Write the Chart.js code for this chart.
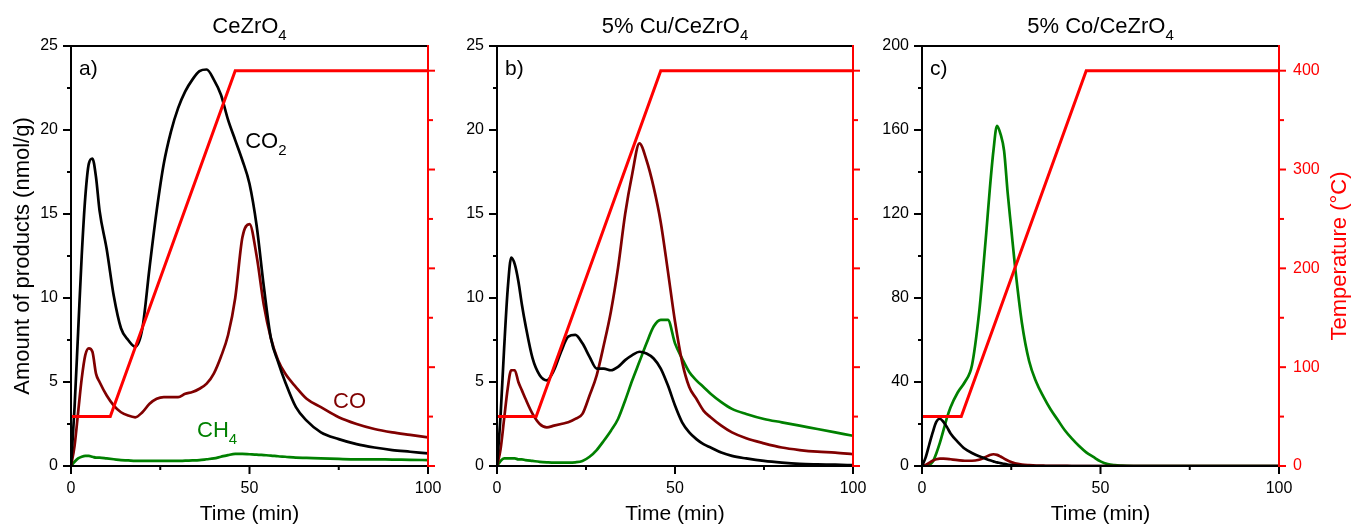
<!DOCTYPE html>
<html>
<head>
<meta charset="utf-8">
<script src="https://cdn.jsdelivr.net/npm/chart.js@4.4.1/dist/chart.umd.min.js"></script>
<style>
  html, body { margin: 0; padding: 0; background: #fff; }
  #wrap { position: relative; width: 1352px; height: 528px; }
  #wrap canvas { position: absolute; left: 0; top: 0; }
</style>
</head>
<body>
<div id="wrap">
  <canvas id="chartA" width="1352" height="528"></canvas>
  <canvas id="chartB" width="1352" height="528"></canvas>
  <canvas id="chartC" width="1352" height="528"></canvas>
</div>
<script>
// ---- data ----
const timeAB = [0, 1, 2, 3, 4, 5, 6, 7, 8,
  10, 12, 14, 16, 18, 20, 22, 24, 26, 28, 30, 32, 34, 36, 38, 40,
  42, 44, 46, 48, 50, 52, 54, 56, 58, 60,
  63, 66, 70, 75, 80, 85, 90, 95, 100];

const co2A = [0, 3.5, 8, 12.5, 16, 18, 18.3, 17.2, 15.2,
  12.9, 10.1, 8.2, 7.5, 7.1, 8.2, 11.8, 15.2, 18.0, 19.9, 21.3, 22.3, 23.0, 23.5, 23.6, 23.0,
  22.1, 20.6, 19.4, 18.2, 16.8, 14.3, 10.7, 7.6, 6.2, 5.0,
  3.5, 2.7, 2.0, 1.6, 1.3, 1.1, 0.95, 0.85, 0.75];
const coA = [0, 1.2, 3.2, 5.2, 6.6, 7.0, 6.8, 5.5, 5.0,
  4.2, 3.6, 3.2, 3.0, 2.9, 3.2, 3.7, 4.0, 4.1, 4.1, 4.1, 4.3, 4.4, 4.6, 4.9, 5.5,
  6.5, 7.8, 10.0, 13.6, 14.4, 12.5, 9.6, 7.6, 6.3, 5.5,
  4.7, 4.0, 3.5, 2.9, 2.5, 2.2, 2.0, 1.85, 1.7];
const ch4A = [0, 0.25, 0.45, 0.55, 0.6, 0.6, 0.55, 0.5, 0.5,
  0.45, 0.4, 0.35, 0.33, 0.3, 0.3, 0.3, 0.3, 0.3, 0.3, 0.3, 0.32, 0.33, 0.35, 0.4, 0.45,
  0.55, 0.65, 0.72, 0.72, 0.7, 0.68, 0.65, 0.62, 0.58, 0.55,
  0.5, 0.48, 0.45, 0.42, 0.4, 0.4, 0.38, 0.37, 0.35];

const co2B = [0, 3, 7, 10.5, 12.4, 12.0, 11.0, 9.6, 8.4,
  6.4, 5.4, 5.1, 5.7, 6.8, 7.7, 7.8, 7.3, 6.5, 5.8, 5.8, 5.7, 5.9, 6.3, 6.6, 6.8,
  6.7, 6.4, 5.8, 4.8, 3.6, 2.6, 2.0, 1.6, 1.3, 1.1,
  0.8, 0.6, 0.45, 0.3, 0.2, 0.13, 0.1, 0.08, 0.05];
const coB = [0, 1, 2.8, 4.6, 5.7, 5.7, 5.0, 4.5, 4.0,
  3.1, 2.5, 2.3, 2.4, 2.5, 2.6, 2.8, 3.1, 4.2, 5.4, 7.2, 9.2, 11.8, 15.0, 17.4, 19.2,
  18.2, 16.6, 14.5, 11.6, 8.6, 6.2, 4.7, 4.0, 3.3, 2.9,
  2.4, 2.0, 1.65, 1.35, 1.1, 0.95, 0.85, 0.8, 0.7];
const ch4B = [0, 0.3, 0.45, 0.45, 0.45, 0.45, 0.4, 0.4, 0.35,
  0.3, 0.25, 0.22, 0.2, 0.2, 0.2, 0.22, 0.3, 0.55, 0.95, 1.5, 2.1, 2.8, 3.9, 5.1, 6.2,
  7.3, 8.3, 8.7, 8.7, 7.3, 6.4, 5.6, 5.1, 4.7, 4.3,
  3.8, 3.4, 3.1, 2.8, 2.6, 2.4, 2.2, 2.0, 1.8];

const timeC = [0, 1, 2, 3, 4, 5, 6, 7, 8, 10, 12, 14,
  16, 17, 18, 19, 20, 21, 22, 23, 24, 25, 26,
  28, 30, 32, 34, 36, 38, 40, 42, 44, 46, 48, 50, 52, 54, 56,
  60, 70, 80, 90, 100];
const co2C = [0, 4, 10, 16, 21, 22.5, 21, 18.5, 15.5, 11.5, 8.2, 6.2,
  4.6, 4.0, 3.3, 2.7, 2.2, 1.7, 1.4, 1.0, 0.7, 0.5, 0.3,
  0.1, 0, 0, 0, 0, 0, 0, 0, 0, 0, 0, 0, 0, 0, 0,
  0, 0, 0, 0, 0];
const coC = [0, 0.5, 1.5, 2.5, 3.2, 3.5, 3.5, 3.4, 3.2, 2.8, 2.5, 2.5,
  3.0, 3.6, 4.4, 5.2, 5.6, 5.3, 4.5, 3.5, 2.6, 1.9, 1.3,
  0.7, 0.4, 0.2, 0.15, 0.1, 0.1, 0.05, 0, 0, 0, 0, 0, 0, 0, 0,
  0, 0, 0, 0, 0];
const ch4C = [0, 0, 0.5, 2, 6, 11, 17, 23, 28, 35, 40, 48,
  73, 91, 111, 132, 150, 162, 158, 150, 130, 113, 96,
  68, 50, 40, 33, 27, 22, 17, 13, 9.5, 6.5, 4.3, 2.2, 0.9, 0.4, 0.2,
  0, 0, 0, 0, 0];

const tempTime = [0, 11, 46, 100];
const tempValue = [50, 50, 400, 400];

const timeTicks = [0, 50, 100];
const tempTicks = [0, 100, 200, 300, 400];

// ---- helpers ----
const FONT = "'Liberation Sans', Arial, sans-serif";
const C_CO2 = '#000000', C_CO = '#800000', C_CH4 = '#008000', C_T = '#ff0000';

function pts(xs, ys) { return xs.map((x, i) => ({ x: x, y: ys[i] })); }

// text with subscript parts: [[text, isSub], ...]
function subText(ctx, x, y, parts, size, color, align) {
  const sub = Math.round(size * 0.68);
  ctx.save();
  ctx.fillStyle = color;
  ctx.textBaseline = 'alphabetic';
  ctx.textAlign = 'left';
  let w = 0;
  parts.forEach((p) => { ctx.font = (p[1] ? sub : size) + 'px ' + FONT; w += ctx.measureText(p[0]).width; });
  let cx = align === 'center' ? x - w / 2 : x;
  parts.forEach((p) => {
    ctx.font = (p[1] ? sub : size) + 'px ' + FONT;
    ctx.fillText(p[0], cx, p[1] ? y + size * 0.3 : y);
    cx += ctx.measureText(p[0]).width;
  });
  ctx.restore();
}

function vText(ctx, x, y, text, size, color) {
  ctx.save();
  ctx.translate(x, y);
  ctx.rotate(-Math.PI / 2);
  ctx.font = size + 'px ' + FONT;
  ctx.fillStyle = color;
  ctx.textAlign = 'center';
  ctx.textBaseline = 'middle';
  ctx.fillText(text, 0, 0);
  ctx.restore();
}

// frame, tick marks and annotations
const panelDecor = {
  id: 'panelDecor',
  afterDatasetsDraw(chart, args, o) {
    const ctx = chart.ctx;
    const a = chart.chartArea;
    const sx = chart.scales.x, sy = chart.scales.y, st = chart.scales.yT;
    ctx.save();
    ctx.lineWidth = 2;

    function seg(x1, y1, x2, y2, col) {
      ctx.strokeStyle = col;
      ctx.beginPath(); ctx.moveTo(x1, y1); ctx.lineTo(x2, y2); ctx.stroke();
    }

    for (let v = 0; v <= 100; v += 25) {
      const px = sx.getPixelForValue(v);
      seg(px, a.bottom, px, a.bottom + (v % 50 === 0 ? 8 : 4), '#000');
    }
    for (let i = 0; i * o.yStep <= sy.max + 1e-9; i++) {
      const py = sy.getPixelForValue(i * o.yStep);
      seg(a.left, py, a.left - (i % 2 === 0 ? 8 : 4), py, '#000');
    }
    for (let v = 0; v <= 400; v += 50) {
      const py = st.getPixelForValue(v);
      seg(a.right, py, a.right + (v % 100 === 0 ? 7 : 5), py, C_T);
    }

    ctx.lineCap = 'square';
    ctx.strokeStyle = '#000';
    ctx.beginPath();
    ctx.moveTo(a.right, a.top); ctx.lineTo(a.left, a.top);
    ctx.lineTo(a.left, a.bottom); ctx.lineTo(a.right, a.bottom);
    ctx.stroke();
    seg(a.right, a.top, a.right, a.bottom, C_T);
    ctx.restore();

    const cx = (a.left + a.right) / 2;
    subText(ctx, cx, 33, o.title, 22, '#000', 'center');
    subText(ctx, cx, 520, [['Time (min)']], 21, '#000', 'center');
    subText(ctx, a.left + 8, a.top + 29, [[o.letter]], 21, '#000', 'left');
    (o.labels || []).forEach((l) => {
      subText(ctx, sx.getPixelForValue(l.x), sy.getPixelForValue(l.y), l.parts, 22, l.color, 'left');
    });
    if (o.yTitle) vText(ctx, 23, 256, 'Amount of products (nmol/g)', 22, '#000');
    if (o.tTitle) vText(ctx, 1340, 256, 'Temperature (°C)', 22, C_T);
  }
};

function makePanel(id, p) {
  const line = (data, color) => ({
    data: data, borderColor: color, backgroundColor: color, borderWidth: 2.7,
    pointRadius: 0, cubicInterpolationMode: 'monotone', order: 1, yAxisID: 'y'
  });
  const tickFont = { family: FONT, size: 16 };
  return new Chart(document.getElementById(id), {
    type: 'line',
    data: {
      datasets: [
        { data: pts(tempTime, tempValue), borderColor: C_T, backgroundColor: C_T,
          borderWidth: 3, pointRadius: 0, tension: 0, order: 0, yAxisID: 'yT' },
        line(pts(p.time, p.co2), C_CO2),
        line(pts(p.time, p.co), C_CO),
        line(pts(p.time, p.ch4), C_CH4)
      ]
    },
    options: {
      responsive: false,
      animation: false,
      events: [],
      layout: { padding: { left: p.left - 40, right: 1352 - p.right - 45, top: 46, bottom: 0 } },
      plugins: {
        legend: { display: false },
        tooltip: { enabled: false },
        panelDecor: p.decor
      },
      scales: {
        x: {
          type: 'linear', min: 0, max: 100,
          afterFit: (s) => { s.height = 62; },
          grid: { display: false, drawTicks: false }, border: { display: false },
          ticks: { stepSize: 50, padding: 13, color: '#000', font: tickFont, maxRotation: 0,
            callback: (v) => (timeTicks.includes(v) ? v : '') }
        },
        y: {
          position: 'left', min: 0, max: p.yMax,
          afterFit: (s) => { s.width = 40; },
          grid: { display: false, drawTicks: false }, border: { display: false },
          ticks: { stepSize: p.yMajor, padding: 13, color: '#000', font: tickFont }
        },
        yT: {
          position: 'right', min: 0, max: 425,
          afterFit: (s) => { s.width = 45; },
          grid: { display: false, drawTicks: false }, border: { display: false },
          ticks: { display: p.tempLabels, stepSize: 100, includeBounds: false, padding: 14,
            color: C_T, font: tickFont,
            callback: (v) => (tempTicks.includes(v) ? v : '') }
        }
      }
    },
    plugins: [panelDecor]
  });
}

makePanel('chartA', {
  left: 71, right: 428, time: timeAB, co2: co2A, co: coA, ch4: ch4A,
  yMax: 25, yMajor: 5, tempLabels: false,
  decor: {
    title: [['CeZrO'], ['4', 1]], letter: 'a)', yStep: 2.5, yTitle: true,
    labels: [
      { x: 48.8, y: 18.9, parts: [['CO'], ['2', 1]], color: C_CO2 },
      { x: 73.4, y: 3.45, parts: [['CO']], color: C_CO },
      { x: 35.3, y: 1.73, parts: [['CH'], ['4', 1]], color: C_CH4 }
    ]
  }
});

makePanel('chartB', {
  left: 497, right: 853, time: timeAB, co2: co2B, co: coB, ch4: ch4B,
  yMax: 25, yMajor: 5, tempLabels: false,
  decor: { title: [['5% Cu/CeZrO'], ['4', 1]], letter: 'b)', yStep: 2.5 }
});

makePanel('chartC', {
  left: 922, right: 1279, time: timeC, co2: co2C, co: coC, ch4: ch4C,
  yMax: 200, yMajor: 40, tempLabels: true,
  decor: { title: [['5% Co/CeZrO'], ['4', 1]], letter: 'c)', yStep: 20, tTitle: true }
});
</script>
</body>
</html>
